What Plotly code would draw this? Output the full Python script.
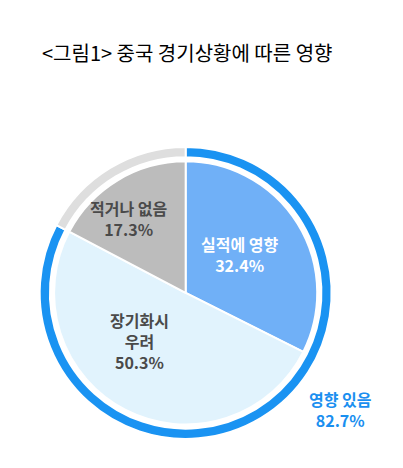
import plotly.graph_objects as go

inner_labels = ["실적에 영향", "장기화시 우려", "적거나 없음"]
inner_values = [32.4, 50.3, 17.3]
outer_labels = ["영향 있음", "적거나 없음"]
outer_values = [82.7, 17.3]

W, H = 403, 468
font = "Noto Sans CJK KR"

def px_dom(x0, x1, y0, y1):
    return dict(x=[x0 / W, x1 / W], y=[1 - y1 / H, 1 - y0 / H])

fig = go.Figure()

# outer ring
fig.add_trace(go.Pie(
    labels=outer_labels, values=outer_values, hole=0.93, sort=False,
    direction="clockwise", rotation=0,
    marker=dict(colors=["#1a93f2", "#dedede"], line=dict(color="white", width=2)),
    textinfo="none", hoverinfo="label+value",
    domain=px_dom(33, 337, 143, 447),
))

# inner pie
fig.add_trace(go.Pie(
    labels=inner_labels, values=inner_values, sort=False,
    direction="clockwise", rotation=0,
    marker=dict(colors=["#70b0f7", "#e1f3fd", "#bcbcbc"], line=dict(color="white", width=2)),
    textinfo="none", hoverinfo="label+value",
    domain=px_dom(48, 322, 158, 432),
))

def note(x, y, text, color, size=16):
    fig.add_annotation(x=x / W, y=1 - y / H, xref="paper", yref="paper",
                       xanchor="center", yanchor="middle",
                       text=text, showarrow=False, align="center",
                       font=dict(family=font, size=size, color=color))

note(242, 255, f"<b>{inner_labels[0]}<br>{inner_values[0]}%</b>", "white")
note(126, 218, f"<b>{inner_labels[2]}<br>{inner_values[2]}%</b>", "#4a4a4a")
note(137, 345, f"<b>장기화시<br>우려<br>{inner_values[1]}%</b>", "#4a4a4a")
note(346, 416, f"<b>{outer_labels[0]}<br>{outer_values[0]}%</b>", "#1a8ff0")

fig.add_annotation(x=33 / W, y=1 - 46 / H, xref="paper", yref="paper",
                   xanchor="left", yanchor="middle",
                   text="<그림1> 중국 경기상황에 따른 영향", showarrow=False,
                   font=dict(family=font, size=20, color="black"))

fig.update_layout(margin=dict(l=0, r=0, t=0, b=0),
                  paper_bgcolor="white", showlegend=False)

fig.write_html("out.html")
